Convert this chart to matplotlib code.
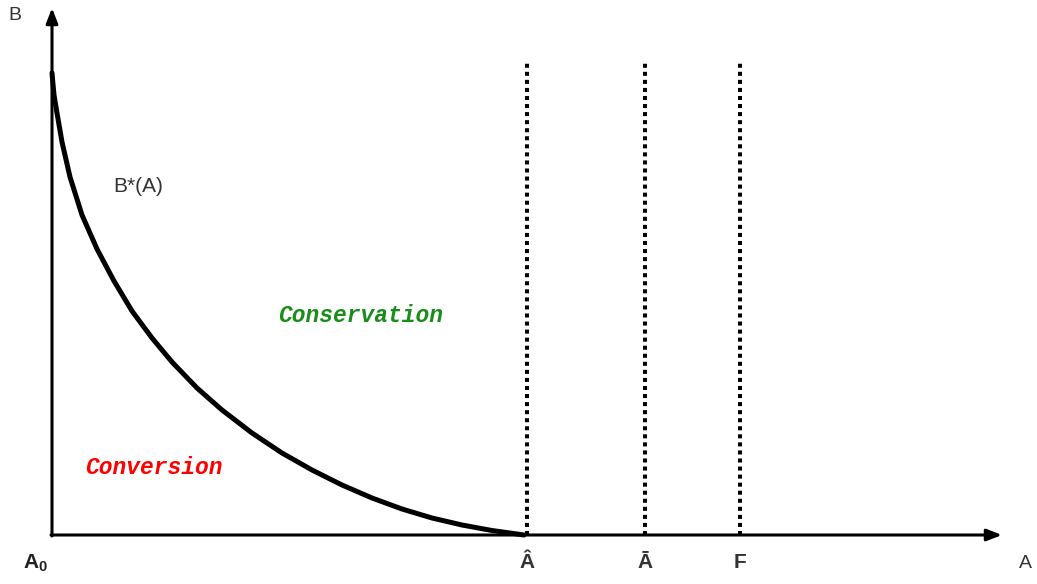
import matplotlib.pyplot as plt
import numpy as np

plt.rcParams['font.family'] = ['Liberation Sans', 'DejaVu Sans']
plt.rcParams['mathtext.fontset'] = 'custom'
plt.rcParams['mathtext.rm'] = 'Liberation Sans'
plt.rcParams['mathtext.bf'] = 'Liberation Sans:bold'

# B*(A) curve
curve_a = [0.00, 0.02, 0.05, 0.10, 0.18, 0.30, 0.45, 0.62, 0.80, 1.00, 1.20,
           1.45, 1.70, 2.00, 2.30, 2.60, 2.90, 3.20, 3.50, 3.80, 4.10, 4.40, 4.72]
curve_b = [4.62, 4.40, 4.22, 3.93, 3.58, 3.20, 2.86, 2.54, 2.24, 1.97, 1.73,
           1.47, 1.25, 1.02, 0.82, 0.65, 0.50, 0.37, 0.26, 0.17, 0.10, 0.045, 0.0]

# vertical threshold lines
mark_labels = ['Â', 'Ā', 'F']
mark_pos = [4.75, 5.93, 6.88]
mark_top = 4.73

x_end = 9.50
y_end = 5.27

fig = plt.figure(figsize=(10.37, 5.84), dpi=100)
ax = fig.add_axes([0, 0, 1, 1])
ax.set_xlim(-0.52, 9.85)
ax.set_ylim(-0.49, 5.35)
ax.axis('off')

# axes with arrows
ax.annotate('', xy=(x_end, 0), xytext=(-0.01, 0),
            arrowprops=dict(arrowstyle='-|>,head_length=0.9,head_width=0.35',
                            color='black', lw=2.2, shrinkA=0, shrinkB=0))
ax.annotate('', xy=(0, y_end), xytext=(0, -0.01),
            arrowprops=dict(arrowstyle='-|>,head_length=0.9,head_width=0.35',
                            color='black', lw=2.2, shrinkA=0, shrinkB=0))

ax.plot(curve_a, curve_b, color='black', lw=3.6, solid_capstyle='round',
        solid_joinstyle='round')

for x, lab in zip(mark_pos, mark_labels):
    ax.plot([x, x], [0, mark_top], color='black', lw=2.9, linestyle=(0, (1, 1)))
    ax.text(x, -0.28, lab, ha='center', va='center', fontsize=15,
            fontweight='bold', color='#333333')

ax.text(-0.17, -0.28, r'$\mathbf{A}_{\mathbf{0}}$', ha='center', va='center',
        fontsize=15, color='#222222')
ax.text(-0.37, 5.2, 'B', ha='center', va='center', fontsize=14, color='#333333')
ax.text(9.73, -0.28, 'A', ha='center', va='center', fontsize=14, color='#333333')
ax.text(0.86, 3.49, 'B*(A)', ha='center', va='center', fontsize=15, color='#333333')

ax.text(3.09, 2.19, 'Conservation', ha='center', va='center', fontsize=16.5,
        family='Liberation Mono', fontweight='bold', fontstyle='italic',
        color='#1a8c1a')
ax.text(1.02, 0.67, 'Conversion', ha='center', va='center', fontsize=16.5,
        family='Liberation Mono', fontweight='bold', fontstyle='italic',
        color='#ff0000')

fig.savefig('out.png', dpi=100)
